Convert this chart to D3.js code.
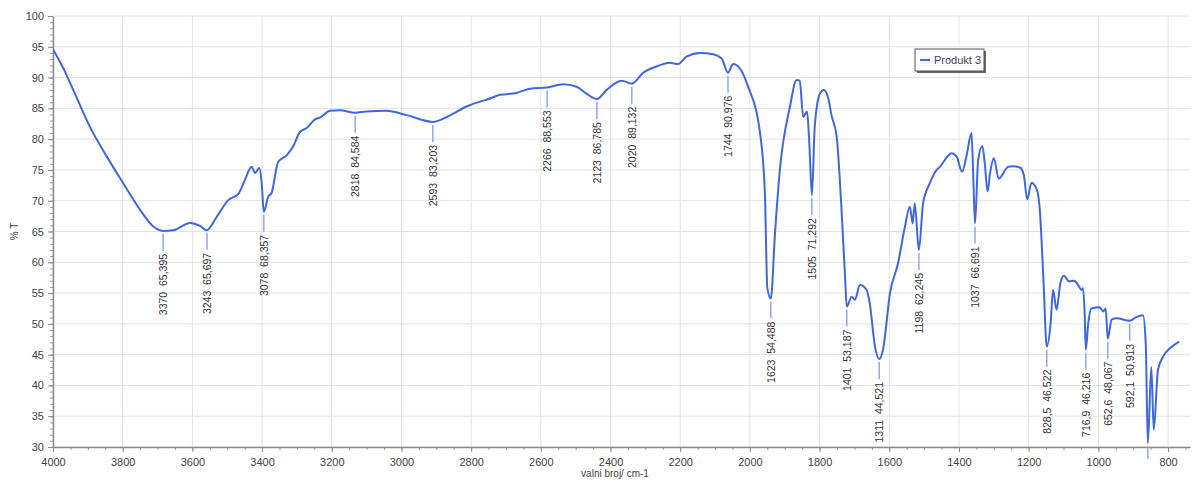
<!DOCTYPE html>
<html>
<head>
<meta charset="utf-8">
<script src="https://cdn.jsdelivr.net/npm/d3@7"></script>
<style>
  body { margin: 0; background: #fff; }
  text { font-family: "Liberation Sans", Arial, sans-serif; }
</style>
</head>
<body>
<div id="chart"></div>
<script>
// spectrum: wavenumber (cm-1) and %T
const wavenumber = [4000, 3966, 3942, 3894, 3846, 3798, 3750, 3712, 3684, 3655, 3607, 3578, 3559, 3530, 3497, 3468, 3449, 3430, 3420, 3408, 3401, 3395, 3382, 3373, 3354, 3329, 3311, 3291, 3272, 3248, 3234, 3205, 3177, 3133, 3100, 3043, 2985, 2910, 2870, 2813, 2775, 2756, 2717, 2670, 2631, 2582, 2536, 2497, 2469, 2439, 2411, 2368, 2339, 2306, 2268, 2230, 2206, 2182, 2144, 2105, 2081, 2063, 2048, 2029, 2005, 1971, 1957, 1950, 1940, 1928, 1914, 1885, 1866, 1857, 1847, 1836, 1830, 1822, 1814, 1799, 1788, 1775, 1766, 1751, 1737, 1727, 1722, 1708, 1699, 1684, 1665, 1656, 1641, 1629, 1618, 1598, 1575, 1555, 1541, 1533, 1527, 1515, 1503, 1484, 1464, 1455, 1421, 1407, 1391, 1378, 1364, 1359, 1354, 1345, 1333, 1326, 1318, 1311, 1300, 1286, 1259, 1245, 1225, 1214, 1204, 1192, 1176, 1168, 1158, 1148, 1137, 1130, 1120, 1109, 1099, 1084, 1070, 1058, 1048, 1044, 1039, 1036, 1029, 1020, 996, 986, 979, 973, 962, 948, 910, 891, 872, 864, 858, 848, 841, 829, 814, 795, 768];
const transmittance = [94.6, 91.0, 88.0, 82.0, 77.2, 72.8, 68.5, 65.8, 65.1, 65.2, 66.4, 65.9, 65.2, 67.4, 70.1, 71.1, 73.4, 75.5, 74.5, 75.3, 72.8, 68.2, 70.7, 71.2, 76.3, 77.4, 78.8, 81.2, 81.8, 83.2, 83.5, 84.6, 84.7, 84.3, 84.5, 84.6, 83.9, 82.8, 83.6, 85.3, 86.1, 86.4, 87.2, 87.5, 88.2, 88.4, 88.9, 88.5, 87.4, 86.5, 88.0, 89.5, 89.0, 90.8, 91.8, 92.4, 92.2, 93.4, 94.0, 93.8, 93.1, 90.8, 92.2, 91.5, 88.5, 81.0, 71.2, 55.8, 54.1, 64.7, 75.0, 85.3, 89.6, 89.5, 83.6, 84.5, 79.9, 70.9, 82.0, 87.4, 88.0, 86.6, 83.9, 80.4, 68.5, 57.7, 52.8, 54.4, 53.9, 56.3, 55.5, 53.3, 46.3, 44.3, 45.8, 55.0, 59.8, 65.8, 69.0, 66.3, 69.6, 62.0, 69.6, 72.8, 75.0, 75.5, 77.7, 77.2, 74.7, 77.4, 81.0, 73.9, 66.3, 76.6, 78.9, 76.1, 71.5, 74.4, 76.9, 73.6, 75.5, 75.6, 75.4, 74.2, 70.2, 72.9, 71.7, 68.5, 57.7, 46.3, 50.1, 55.5, 52.3, 56.6, 57.8, 56.9, 57.0, 56.3, 55.5, 55.8, 51.2, 45.8, 50.1, 52.5, 52.7, 52.0, 52.5, 47.6, 50.7, 50.9, 50.5, 51.1, 51.4, 46.8, 30.6, 43.0, 32.8, 42.5, 44.7, 46.0, 47.1];

// peak labels: position on the axis and the printed text
const peakWn = [3684, 3558, 3395, 3133, 2910, 2582, 2439, 2339, 2063, 1940, 1822, 1722, 1629, 1515, 1354, 1148, 1036, 973, 910, 858];
const peakText = ["3370  65,395", "3243  65,697", "3078  68,357", "2818  84,584", "2593  83,203", "2266  88,553", "2123  86,785", "2020  89,132", "1744  90,976", "1623  54,488", "1505  71,292", "1401  53,187", "1311  44,521", "1198  62,245", "1037  66,691", "828,5  46,522", "716,9  46,216", "652,6  48,067", "592,1  50,913", ""];

const xTicks = [4000, 3800, 3600, 3400, 3200, 3000, 2800, 2600, 2400, 2200, 2000, 1800, 1600, 1400, 1200, 1000, 800];
const yTicks = [30, 35, 40, 45, 50, 55, 60, 65, 70, 75, 80, 85, 90, 95, 100];

const W = 1200, H = 482;
const margin = { top: 16, right: 10, bottom: 35, left: 53 };
const width = W - margin.left - margin.right;
const height = H - margin.top - margin.bottom;
const blue = "#3f67e0";

const svg = d3.select("#chart").append("svg")
    .attr("width", W)
    .attr("height", H);

const g = svg.append("g")
    .attr("transform", `translate(${margin.left},${margin.top})`);

const x = d3.scaleLinear().domain([4000, 737]).range([0, width]);
const y = d3.scaleLinear().domain([30, 100]).range([height, 0]);

// grid
g.append("g").selectAll("line").data(xTicks).join("line")
    .attr("x1", d => x(d)).attr("x2", d => x(d))
    .attr("y1", 0).attr("y2", height)
    .attr("stroke", "#e2e2e2");
g.append("g").selectAll("line").data(yTicks).join("line")
    .attr("x1", 0).attr("x2", width)
    .attr("y1", d => y(d)).attr("y2", d => y(d))
    .attr("stroke", "#e2e2e2");

// minor ticks
const xMinor = d3.range(4000, 737, -50);
const yMinor = d3.range(30, 100.1, 1);
g.append("g").attr("transform", `translate(0,${height})`)
    .call(d3.axisBottom(x).tickValues(xMinor).tickSize(3).tickFormat(""))
    .call(a => a.select(".domain").remove())
    .selectAll("line").attr("stroke", "#999");
g.append("g")
    .call(d3.axisLeft(y).tickValues(yMinor).tickSize(3).tickFormat(""))
    .call(a => a.select(".domain").remove())
    .selectAll("line").attr("stroke", "#999");

// main axes
const xAxis = g.append("g").attr("transform", `translate(0,${height})`)
    .call(d3.axisBottom(x).tickValues(xTicks).tickFormat(d3.format("d")).tickSize(5).tickSizeOuter(0).tickPadding(6));
const yAxis = g.append("g")
    .call(d3.axisLeft(y).tickValues(yTicks).tickFormat(d3.format("d")).tickSize(5).tickSizeOuter(0).tickPadding(4));
[xAxis, yAxis].forEach(a => {
    a.select(".domain").attr("stroke", "#8a8a8a").attr("stroke-width", 1.5);
    a.selectAll(".tick line").attr("stroke", "#8a8a8a");
    a.selectAll(".tick text").attr("fill", "#444").style("font-size", "11px")
        .style("font-family", "'Liberation Sans', Arial, sans-serif");
});

// clip
svg.append("defs").append("clipPath").attr("id", "clip")
    .append("rect").attr("width", width).attr("height", height + 12);

const points = wavenumber.map((w, i) => [w, transmittance[i]]);
const plot = g.append("g").attr("clip-path", "url(#clip)");

// T at a wavenumber, from the spectrum
function tAt(w) {
    for (let i = 0; i < wavenumber.length - 1; i++) {
        const a = wavenumber[i], b = wavenumber[i + 1];
        if (w <= a && w >= b) {
            const t = (a - w) / (a - b);
            return transmittance[i] + t * (transmittance[i + 1] - transmittance[i]);
        }
    }
    return transmittance[transmittance.length - 1];
}

// peak markers
peakWn.forEach((w, i) => {
    const px = x(w), py = y(tAt(w));
    plot.append("line")
        .attr("x1", px).attr("x2", px)
        .attr("y1", py + 3).attr("y2", py + 20)
        .attr("stroke", "#8fa8ef").attr("stroke-width", 1.5);
    g.append("text")
        .attr("transform", `translate(${px + 4},${py + 23}) rotate(-90)`)
        .attr("text-anchor", "end")
        .attr("fill", "#333")
        .style("font-size", "10.5px")
        .style("white-space", "pre")
        .text(peakText[i]);
});

plot.append("path")
    .datum(points)
    .attr("fill", "none")
    .attr("stroke", blue)
    .attr("stroke-width", 2)
    .attr("stroke-linejoin", "round")
    .attr("clip-path", "url(#clip)")
    .attr("d", d3.line().x(d => x(d[0])).y(d => y(d[1])).curve(d3.curveMonotoneX));

// axis titles
svg.append("text")
    .attr("transform", `translate(18,${margin.top + height / 2}) rotate(-90)`)
    .attr("text-anchor", "middle").attr("fill", "#444")
    .style("font-size", "10px").text("% T");
svg.append("text")
    .attr("x", 615).attr("y", 477)
    .attr("text-anchor", "middle").attr("fill", "#444")
    .style("font-size", "10px").text("valni broj/ cm-1");

// legend
const lg = svg.append("g").attr("transform", "translate(915,49)");
lg.append("rect").attr("x", 2).attr("y", 2).attr("width", 69).attr("height", 22).attr("fill", "#666");
lg.append("rect").attr("width", 69).attr("height", 22).attr("fill", "#fff").attr("stroke", "#555");
lg.append("line").attr("x1", 5).attr("x2", 15).attr("y1", 11).attr("y2", 11)
    .attr("stroke", blue).attr("stroke-width", 2);
lg.append("text").attr("x", 19).attr("y", 15).attr("fill", "#4a3f5c")
    .style("font-size", "11px").text("Produkt 3");
</script>
</body>
</html>
